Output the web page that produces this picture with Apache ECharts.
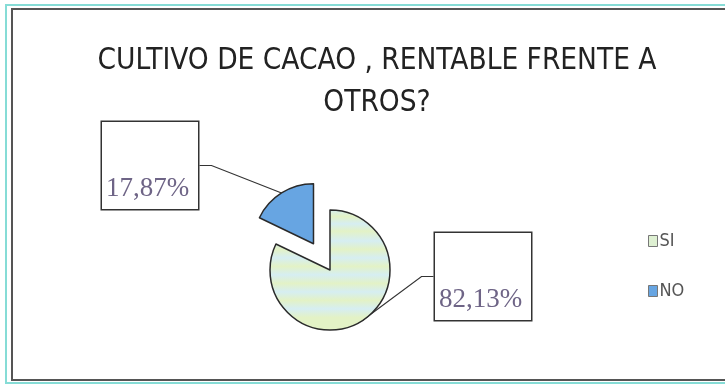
<!DOCTYPE html>
<html>
<head>
<meta charset="utf-8">
<script src="https://cdn.jsdelivr.net/npm/echarts@6/dist/echarts.min.js"></script>
<style>html,body{margin:0;padding:0;background:#fff}#c{width:725px;height:384px}</style>
</head>
<body>
<div id="c"></div>
<script>
const titleText = 'CULTIVO DE CACAO , RENTABLE FRENTE A\nOTROS?';
const categories = ['SI', 'NO'];
const values = [82.13, 17.87];
const explodedCategory = 'NO';

const blueColor = '#67a5e2';
const stripeFill = {
  type: 'linear', x: 0, y: 0, x2: 0, y2: 1,
  colorStops: [
    {offset: 0.00, color: '#d6eef2'}, {offset: 0.06, color: '#e3f2c6'},
    {offset: 0.12, color: '#d6eef2'}, {offset: 0.18, color: '#e3f2c6'},
    {offset: 0.26, color: '#d6eef2'}, {offset: 0.33, color: '#e3f2c6'},
    {offset: 0.40, color: '#d6eef2'}, {offset: 0.47, color: '#e3f2c6'},
    {offset: 0.54, color: '#d6eef2'}, {offset: 0.61, color: '#e3f2c6'},
    {offset: 0.68, color: '#d6eef2'}, {offset: 0.75, color: '#e3f2c6'},
    {offset: 0.82, color: '#d6eef2'}, {offset: 0.89, color: '#e3f2c6'},
    {offset: 1.00, color: '#e3f2c6'}
  ]
};
const fills = {SI: stripeFill, NO: blueColor};

const labelBoxes = {
  SI: {x: 435, y: 233},
  NO: {x: 102, y: 122}
};

// pie geometry
const pieCenter = [330, 270];
const pieRadius = 60;
const startAngle = 90;
const explodeOffset = 31;

// mid-angle of exploded slice (clockwise from startAngle), derived from the data
const total = values.reduce((a, b) => a + b, 0);
const exIdx = categories.indexOf(explodedCategory);
const before = values.slice(0, exIdx).reduce((a, b) => a + b, 0);
const midDeg = startAngle - (before + values[exIdx] / 2) / total * 360;
const midRad = midDeg * Math.PI / 180;
const exCenter = [pieCenter[0] + explodeOffset * Math.cos(midRad), pieCenter[1] - explodeOffset * Math.sin(midRad)];

const narrow = "'Liberation Sans Narrow', 'DejaVu Sans Condensed', sans-serif";

const labelCommon = {
  show: true,
  position: 'outside',
  formatter: p => p.value.toFixed(2).replace('.', ',') + '%',
  fontFamily: "'Liberation Serif', serif",
  fontSize: 27,
  color: '#6e6486',
  width: 87,
  height: 28,
  lineHeight: 28,
  align: 'left',
  padding: [53, 5, 6, 4],
  backgroundColor: '#fff',
  borderColor: '#333',
  borderWidth: 1.5,
  overflow: 'none'
};

function makeSeries(showName, center) {
  return {
    type: 'pie',
    center: center,
    radius: pieRadius,
    startAngle: startAngle,
    clockwise: true,
    selectedMode: false,
    avoidLabelOverlap: false,
    emphasis: {disabled: true},
    data: categories.map((c, i) => {
      const visible = c === showName;
      return {
        name: c,
        value: values[i],
        itemStyle: visible
          ? {color: fills[c], borderColor: '#2a2a2a', borderWidth: 1.5}
          : {color: 'rgba(0,0,0,0)', borderWidth: 0},
        label: visible ? {} : {show: false},
        labelLine: visible ? {} : {show: false}
      };
    }),
    label: labelCommon,
    labelLine: {show: true, length: 10, length2: 12, lineStyle: {color: '#333', width: 1.2}},
    labelLayout: params => {
      const b = labelBoxes[categories[params.dataIndex]];
      return {x: b.x, y: b.y, align: 'left', verticalAlign: 'top'};
    }
  };
}

const chart = echarts.init(document.getElementById('c'));
chart.setOption({
  backgroundColor: '#fff',
  animation: false,
  title: {
    text: titleText,
    left: 372,
    top: 35,
    textAlign: 'center',
    textStyle: {fontFamily: narrow, fontSize: 29.5, fontWeight: 'normal', color: '#222', lineHeight: 42}
  },
  legend: {
    orient: 'vertical',
    left: 643,
    top: 227,
    itemWidth: 9,
    itemHeight: 11,
    itemGap: 32,
    icon: 'rect',
    selectedMode: false,
    data: categories.map(c => ({
      name: c,
      itemStyle: {color: c === 'SI' ? '#def0d2' : blueColor, borderColor: '#777', borderWidth: 1}
    })),
    textStyle: {fontFamily: narrow, fontSize: 18, color: '#555', padding: [0, 0, 0, -3]}
  },
  graphic: [
    {type: 'rect', silent: true, shape: {x: 6, y: 5, width: 730, height: 378}, style: {fill: 'none', stroke: '#86dcd6', lineWidth: 2}},
    {type: 'rect', silent: true, shape: {x: 12, y: 9, width: 730, height: 371}, style: {fill: 'none', stroke: '#555', lineWidth: 2}}
  ],
  series: [
    makeSeries('SI', pieCenter),
    makeSeries('NO', exCenter)
  ]
});
</script>
</body>
</html>
